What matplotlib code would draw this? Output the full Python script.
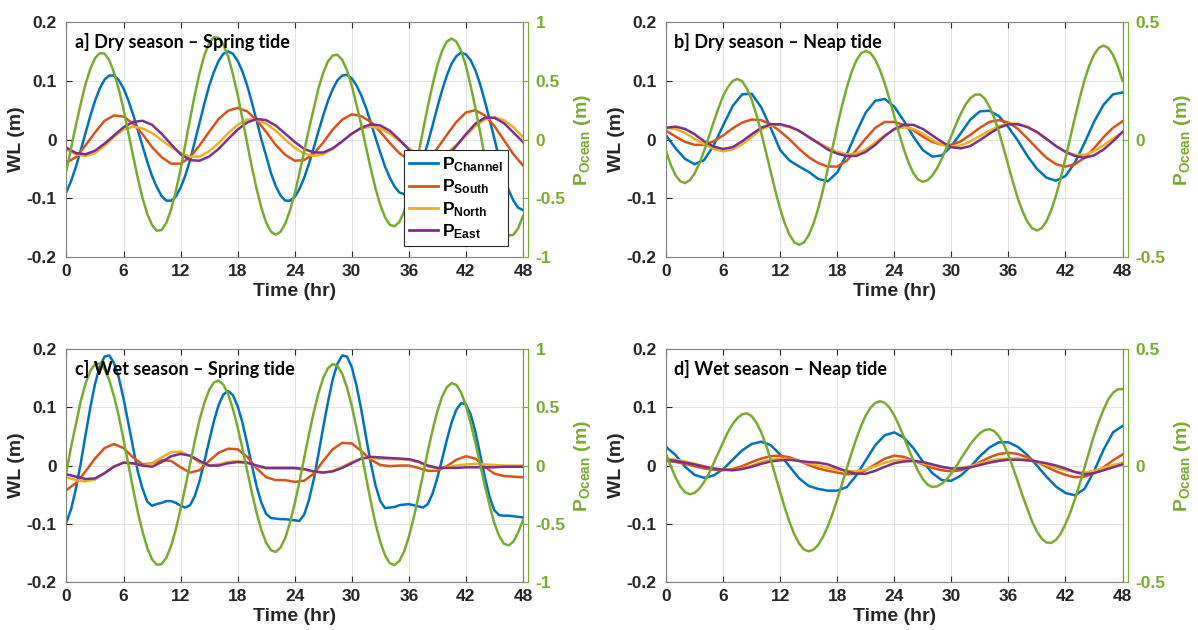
import matplotlib
matplotlib.use("Agg")
import matplotlib.pyplot as plt
from matplotlib.lines import Line2D

plt.rcParams["font.family"] = ["Liberation Sans", "DejaVu Sans"]
plt.rcParams["font.weight"] = "bold"
plt.rcParams["mathtext.fontset"] = "custom"
plt.rcParams["mathtext.bf"] = "Liberation Sans:bold"
plt.rcParams["mathtext.rm"] = "Liberation Sans:bold"
plt.rcParams["axes.unicode_minus"] = False

# time axes (hours): hourly readings and half-hourly readings for the big curves
hours = list(range(49))
half_hours = [i / 2 for i in range(97)]

# ---- a] Dry season - Spring tide ----
a_channel = [-0.089, -0.070, -0.046, -0.018, 0.011, 0.040, 0.066, 0.087, 0.102, 0.109, 0.109, 0.101,
             0.087, 0.067, 0.043, 0.016, -0.011, -0.038, -0.062, -0.081, -0.096, -0.104, -0.104, -0.097,
             -0.082, -0.061, -0.035, -0.003, 0.029, 0.061, 0.091, 0.115, 0.134, 0.146, 0.150, 0.146,
             0.134, 0.116, 0.092, 0.063, 0.032, 0.000, -0.028, -0.057, -0.079, -0.095, -0.104, -0.104,
             -0.098, -0.084, -0.065, -0.041, -0.014, 0.014, 0.041, 0.066, 0.086, 0.101, 0.109, 0.110,
             0.104, 0.092, 0.075, 0.054, 0.029, 0.003, -0.022, -0.046, -0.065, -0.080, -0.090, -0.093,
             -0.089, -0.077, -0.059, -0.034, -0.006, 0.024, 0.055, 0.084, 0.109, 0.129, 0.142, 0.148,
             0.145, 0.135, 0.118, 0.094, 0.065, 0.034, 0.001, -0.031, -0.061, -0.086, -0.104, -0.116, -0.120]
a_south = [-0.039, -0.030, -0.010, 0.012, 0.032, 0.041, 0.039, 0.027, 0.009, -0.013, -0.030, -0.041,
           -0.041, -0.030, -0.010, 0.013, 0.035, 0.049, 0.054, 0.048, 0.033, 0.013, -0.009, -0.026,
           -0.036, -0.035, -0.024, -0.005, 0.017, 0.034, 0.043, 0.040, 0.030, 0.013, -0.006, -0.023,
           -0.035, -0.039, -0.033, -0.015, 0.008, 0.030, 0.046, 0.050, 0.041, 0.023, -0.001, -0.025, -0.044]
a_north = [-0.017, -0.025, -0.028, -0.023, -0.011, 0.005, 0.017, 0.022, 0.019, 0.011, -0.001, -0.013,
           -0.023, -0.029, -0.029, -0.020, -0.006, 0.011, 0.025, 0.034, 0.034, 0.027, 0.015, 0.000,
           -0.014, -0.024, -0.028, -0.025, -0.016, -0.003, 0.010, 0.019, 0.022, 0.019, 0.010, -0.002,
           -0.015, -0.025, -0.031, -0.031, -0.023, -0.009, 0.007, 0.023, 0.034, 0.038, 0.033, 0.021, 0.004]
a_east = [-0.014, -0.023, -0.025, -0.019, -0.007, 0.007, 0.021, 0.030, 0.032, 0.025, 0.010, -0.008,
          -0.025, -0.035, -0.036, -0.029, -0.016, 0.001, 0.017, 0.029, 0.035, 0.033, 0.024, 0.010,
          -0.004, -0.016, -0.022, -0.022, -0.015, -0.003, 0.010, 0.020, 0.026, 0.024, 0.015, 0.000,
          -0.017, -0.031, -0.039, -0.039, -0.029, -0.011, 0.009, 0.027, 0.037, 0.037, 0.028, 0.012, -0.004]
a_ocean = [-0.261, -0.069, 0.126, 0.304, 0.471, 0.600, 0.692, 0.736, 0.731, 0.675, 0.571, 0.427,
           0.259, 0.059, -0.139, -0.329, -0.498, -0.635, -0.729, -0.776, -0.770, -0.709, -0.596, -0.439,
           -0.256, -0.039, 0.177, 0.384, 0.568, 0.717, 0.820, 0.871, 0.866, 0.809, 0.706, 0.557,
           0.381, 0.179, -0.031, -0.236, -0.422, -0.585, -0.707, -0.784, -0.810, -0.786, -0.716, -0.605,
           -0.462, -0.287, -0.100, 0.091, 0.262, 0.436, 0.569, 0.665, 0.716, 0.721, 0.677, 0.590,
           0.461, 0.296, 0.123, -0.065, -0.248, -0.417, -0.557, -0.662, -0.725, -0.739, -0.702, -0.615,
           -0.484, -0.319, -0.125, 0.080, 0.283, 0.466, 0.631, 0.755, 0.834, 0.860, 0.833, 0.755,
           0.630, 0.458, 0.272, 0.062, -0.151, -0.345, -0.527, -0.667, -0.768, -0.816, -0.811, -0.755, -0.651]

# ---- b] Dry season - Neap tide ----
b_channel = [0.007, -0.015, -0.033, -0.042, -0.035, -0.010, 0.024, 0.057, 0.077, 0.078, 0.055, 0.020,
             -0.018, -0.036, -0.046, -0.055, -0.067, -0.071, -0.056, -0.025, 0.012, 0.046, 0.066, 0.069,
             0.056, 0.032, 0.005, -0.018, -0.029, -0.027, -0.011, 0.011, 0.034, 0.048, 0.049, 0.040,
             0.021, -0.002, -0.028, -0.050, -0.065, -0.070, -0.062, -0.039, -0.006, 0.030, 0.059, 0.077, 0.080]
b_south = [0.015, 0.005, -0.004, -0.009, -0.009, -0.003, 0.007, 0.019, 0.029, 0.034, 0.033, 0.026,
           0.014, 0.000, -0.016, -0.030, -0.040, -0.046, -0.046, -0.036, -0.018, 0.002, 0.020, 0.030,
           0.030, 0.025, 0.016, 0.005, -0.004, -0.009, -0.009, -0.003, 0.008, 0.020, 0.030, 0.033,
           0.029, 0.018, 0.002, -0.015, -0.031, -0.042, -0.046, -0.042, -0.031, -0.015, 0.004, 0.020, 0.031]
b_north = [0.020, 0.018, 0.011, 0.001, -0.008, -0.016, -0.020, -0.017, -0.008, 0.004, 0.017, 0.024,
           0.025, 0.021, 0.014, 0.005, -0.005, -0.014, -0.021, -0.025, -0.024, -0.017, -0.005, 0.007,
           0.017, 0.021, 0.018, 0.010, -0.001, -0.009, -0.012, -0.010, -0.003, 0.006, 0.015, 0.023,
           0.027, 0.027, 0.022, 0.012, 0.001, -0.011, -0.021, -0.026, -0.026, -0.020, -0.010, 0.002, 0.012]
b_east = [0.020, 0.022, 0.018, 0.009, -0.003, -0.012, -0.016, -0.013, -0.003, 0.009, 0.020, 0.026,
          0.026, 0.022, 0.015, 0.004, -0.006, -0.017, -0.024, -0.028, -0.028, -0.021, -0.009, 0.006,
          0.018, 0.025, 0.025, 0.018, 0.007, -0.004, -0.013, -0.015, -0.011, -0.001, 0.010, 0.020,
          0.026, 0.026, 0.021, 0.013, 0.001, -0.011, -0.021, -0.028, -0.031, -0.027, -0.017, -0.003, 0.013]
b_ocean = [-0.050, -0.109, -0.152, -0.178, -0.185, -0.173, -0.144, -0.101, -0.048, 0.012, 0.074, 0.133,
           0.186, 0.223, 0.249, 0.258, 0.248, 0.217, 0.169, 0.106, 0.030, -0.053, -0.137, -0.220,
           -0.296, -0.359, -0.407, -0.438, -0.448, -0.438, -0.407, -0.358, -0.293, -0.215, -0.127, -0.036,
           0.056, 0.144, 0.221, 0.287, 0.336, 0.367, 0.377, 0.368, 0.340, 0.295, 0.238, 0.171,
           0.099, 0.026, -0.041, -0.098, -0.143, -0.170, -0.180, -0.173, -0.153, -0.122, -0.081, -0.033,
           0.016, 0.066, 0.111, 0.149, 0.176, 0.191, 0.192, 0.175, 0.140, 0.093, 0.033, -0.038,
           -0.112, -0.184, -0.252, -0.307, -0.350, -0.378, -0.387, -0.377, -0.348, -0.301, -0.239, -0.164,
           -0.081, 0.007, 0.094, 0.177, 0.252, 0.314, 0.361, 0.390, 0.400, 0.390, 0.360, 0.312, 0.250]

# ---- c] Wet season - Spring tide ----
c_channel = [-0.097, -0.074, -0.039, 0.004, 0.052, 0.099, 0.140, 0.170, 0.187, 0.189, 0.176, 0.151,
             0.115, 0.073, 0.031, -0.010, -0.040, -0.062, -0.069, -0.066, -0.064, -0.061, -0.061, -0.064,
             -0.069, -0.072, -0.068, -0.052, -0.026, 0.007, 0.042, 0.076, 0.104, 0.122, 0.128, 0.121,
             0.102, 0.074, 0.038, 0.000, -0.036, -0.064, -0.083, -0.090, -0.091, -0.092, -0.092, -0.093,
             -0.094, -0.095, -0.084, -0.059, -0.024, 0.020, 0.066, 0.109, 0.148, 0.175, 0.189, 0.187,
             0.169, 0.137, 0.096, 0.049, 0.004, -0.034, -0.061, -0.073, -0.072, -0.071, -0.068, -0.067,
             -0.066, -0.068, -0.070, -0.072, -0.066, -0.048, -0.021, 0.011, 0.044, 0.074, 0.096, 0.107,
             0.105, 0.088, 0.058, 0.019, -0.020, -0.054, -0.077, -0.085, -0.086, -0.086, -0.087, -0.088, -0.089]
c_south = [-0.042, -0.030, -0.010, 0.012, 0.030, 0.037, 0.030, 0.014, 0.002, 0.004, 0.009, 0.008,
           -0.003, -0.012, -0.008, 0.008, 0.022, 0.029, 0.028, 0.015, -0.005, -0.020, -0.025, -0.025,
           -0.028, -0.026, -0.014, 0.008, 0.028, 0.039, 0.038, 0.025, 0.010, 0.001, -0.001, 0.000,
           0.000, -0.004, -0.009, -0.009, -0.001, 0.010, 0.016, 0.012, -0.002, -0.014, -0.018, -0.019, -0.020]
c_north = [-0.020, -0.025, -0.027, -0.024, -0.013, -0.001, 0.005, 0.003, 0.000, 0.004, 0.014, 0.023,
           0.024, 0.016, 0.005, 0.000, 0.002, 0.006, 0.008, 0.005, -0.001, -0.005, -0.005, -0.005,
           -0.005, -0.007, -0.011, -0.012, -0.009, -0.002, 0.006, 0.012, 0.013, 0.012, 0.011, 0.011,
           0.010, 0.006, -0.001, -0.005, -0.003, 0.000, 0.002, 0.003, 0.002, 0.001, 0.000, 0.000, 0.000]
c_east = [-0.015, -0.019, -0.023, -0.022, -0.013, -0.002, 0.005, 0.004, 0.000, -0.002, 0.006, 0.016,
          0.020, 0.017, 0.008, 0.000, 0.000, 0.004, 0.006, 0.005, 0.000, -0.004, -0.004, -0.004,
          -0.004, -0.006, -0.010, -0.012, -0.010, -0.004, 0.004, 0.012, 0.015, 0.014, 0.013, 0.012,
          0.011, 0.007, 0.000, -0.004, -0.004, -0.004, -0.003, -0.003, -0.003, -0.003, -0.002, -0.002, -0.002]
c_ocean = [-0.050, 0.166, 0.358, 0.554, 0.704, 0.812, 0.870, 0.876, 0.830, 0.733, 0.593, 0.424,
           0.223, 0.013, -0.198, -0.399, -0.568, -0.708, -0.805, -0.851, -0.846, -0.791, -0.689, -0.548,
           -0.373, -0.182, 0.017, 0.212, 0.395, 0.538, 0.648, 0.713, 0.729, 0.694, 0.612, 0.486,
           0.328, 0.147, -0.045, -0.233, -0.407, -0.553, -0.662, -0.726, -0.741, -0.705, -0.622, -0.491,
           -0.326, -0.139, 0.065, 0.269, 0.456, 0.621, 0.752, 0.835, 0.871, 0.855, 0.787, 0.670,
           0.512, 0.323, 0.116, -0.099, -0.309, -0.499, -0.654, -0.770, -0.838, -0.854, -0.819, -0.739,
           -0.612, -0.453, -0.271, -0.074, 0.124, 0.305, 0.465, 0.591, 0.672, 0.708, 0.692, 0.626,
           0.518, 0.366, 0.196, 0.011, -0.174, -0.343, -0.496, -0.604, -0.670, -0.685, -0.652, -0.573, -0.470]

# ---- d] Wet season - Neap tide ----
d_channel = [0.032, 0.018, -0.002, -0.016, -0.021, -0.017, -0.006, 0.010, 0.026, 0.037, 0.041, 0.035,
             0.019, -0.002, -0.022, -0.035, -0.040, -0.043, -0.043, -0.037, -0.017, 0.009, 0.035, 0.052,
             0.057, 0.048, 0.030, 0.007, -0.013, -0.025, -0.026, -0.017, -0.002, 0.016, 0.031, 0.040,
             0.040, 0.032, 0.018, 0.000, -0.019, -0.036, -0.047, -0.051, -0.040, -0.010, 0.027, 0.057, 0.068]
d_south = [0.008, 0.006, 0.003, -0.001, -0.005, -0.007, -0.008, -0.006, -0.001, 0.006, 0.012, 0.016,
           0.017, 0.014, 0.008, 0.001, -0.005, -0.009, -0.012, -0.015, -0.014, -0.008, 0.002, 0.012,
           0.017, 0.015, 0.009, 0.002, -0.004, -0.008, -0.010, -0.008, -0.002, 0.006, 0.014, 0.020,
           0.022, 0.020, 0.014, 0.006, -0.002, -0.010, -0.016, -0.020, -0.019, -0.013, -0.003, 0.009, 0.019]
d_north = [0.012, 0.010, 0.007, 0.003, -0.001, -0.005, -0.007, -0.008, -0.005, 0.000, 0.006, 0.010,
           0.012, 0.011, 0.008, 0.004, 0.000, -0.004, -0.007, -0.009, -0.010, -0.007, -0.001, 0.005,
           0.009, 0.010, 0.008, 0.004, 0.000, -0.003, -0.005, -0.004, -0.001, 0.004, 0.008, 0.011,
           0.012, 0.012, 0.010, 0.006, 0.001, -0.004, -0.008, -0.011, -0.012, -0.009, -0.004, 0.001, 0.005]
d_east = [0.010, 0.008, 0.005, 0.002, -0.002, -0.005, -0.007, -0.008, -0.006, -0.002, 0.003, 0.007,
          0.009, 0.010, 0.008, 0.006, 0.005, 0.002, -0.004, -0.010, -0.014, -0.014, -0.009, -0.002,
          0.004, 0.007, 0.008, 0.006, 0.002, -0.002, -0.005, -0.005, -0.003, 0.001, 0.005, 0.008,
          0.010, 0.010, 0.009, 0.007, 0.004, 0.000, -0.005, -0.011, -0.015, -0.013, -0.008, -0.003, 0.002]
d_ocean = [0.049, -0.003, -0.051, -0.090, -0.115, -0.123, -0.117, -0.099, -0.070, -0.034, 0.010, 0.055,
           0.100, 0.144, 0.178, 0.204, 0.220, 0.224, 0.212, 0.184, 0.143, 0.089, 0.026, -0.044,
           -0.114, -0.183, -0.245, -0.296, -0.335, -0.360, -0.368, -0.361, -0.340, -0.306, -0.261, -0.207,
           -0.145, -0.079, -0.012, 0.053, 0.115, 0.169, 0.215, 0.248, 0.269, 0.276, 0.269, 0.248,
           0.215, 0.172, 0.123, 0.071, 0.022, -0.023, -0.058, -0.082, -0.092, -0.089, -0.078, -0.059,
           -0.033, -0.004, 0.029, 0.061, 0.092, 0.117, 0.139, 0.152, 0.156, 0.148, 0.126, 0.091,
           0.045, -0.011, -0.070, -0.131, -0.186, -0.241, -0.283, -0.314, -0.330, -0.332, -0.319, -0.292,
           -0.251, -0.202, -0.143, -0.077, -0.009, 0.061, 0.129, 0.188, 0.240, 0.284, 0.312, 0.327, 0.328]

titles = ["a] Dry season \u2013 Spring tide", "b] Dry season \u2013 Neap tide",
          "c] Wet season \u2013 Spring tide", "d] Wet season \u2013 Neap tide"]
series_names = [r"$\mathbf{P_{Channel}}$", r"$\mathbf{P_{South}}$",
                r"$\mathbf{P_{North}}$", r"$\mathbf{P_{East}}$"]

time_ticks = [0, 6, 12, 18, 24, 30, 36, 42, 48]
wl_ticks = [-0.2, -0.1, 0, 0.1, 0.2]
wl_labels = ["-0.2", "-0.1", "0", "0.1", "0.2"]
spring_ticks = [-1, -0.5, 0, 0.5, 1]
spring_labels = ["-1", "-0.5", "0", "0.5", "1"]
neap_ticks = [-0.5, 0, 0.5]
neap_labels = ["-0.5", "0", "0.5"]

colors = ["#0072BD", "#D95319", "#EDB120", "#7E2F8E"]
green = "#77AC30"
box = "#808080"
ink = "#262626"

fig = plt.figure(figsize=(11.98, 6.3), dpi=100)

positions = [
    [0.0555, 0.592, 0.381, 0.373],
    [0.556, 0.592, 0.381, 0.373],
    [0.0555, 0.076, 0.381, 0.370],
    [0.556, 0.076, 0.381, 0.370],
]

panels = [
    (a_channel, a_south, a_north, a_east, a_ocean, 1.0, spring_ticks, spring_labels),
    (b_channel, b_south, b_north, b_east, b_ocean, 0.5, neap_ticks, neap_labels),
    (c_channel, c_south, c_north, c_east, c_ocean, 1.0, spring_ticks, spring_labels),
    (d_channel, d_south, d_north, d_east, d_ocean, 0.5, neap_ticks, neap_labels),
]

for i, (pos, panel) in enumerate(zip(positions, panels)):
    ch, so, no, ea, oc, olim, oticks, olabels = panel
    ax = fig.add_axes(pos)
    ax2 = ax.twinx()

    for vals, c in zip([ch, so, no, ea], colors):
        t = half_hours if len(vals) == len(half_hours) else hours
        ax.plot(t, vals, color=c, lw=1.8, solid_joinstyle="round")
    ax2.plot(half_hours, oc, color=green, lw=1.8, solid_joinstyle="round")

    ax.set_xlim(0, 48)
    ax.set_ylim(-0.2, 0.2)
    ax2.set_ylim(-olim, olim)

    ax.set_xticks(time_ticks)
    ax.set_xticklabels([str(t) for t in time_ticks])
    ax.set_yticks(wl_ticks)
    ax.set_yticklabels(wl_labels)
    ax2.set_yticks(oticks)
    ax2.set_yticklabels(olabels)

    ax.grid(True, color="#e4e4e4", lw=0.8)
    ax.set_axisbelow(True)

    ax.tick_params(direction="in", length=4, width=0.8, colors=ink, labelsize=12.5,
                   top=True, right=False, pad=5)
    ax.tick_params(axis="y", pad=7)
    ax2.tick_params(axis="y", direction="in", length=4, width=0.8, colors=green,
                    labelsize=12.5, pad=5)

    for s in ["left", "bottom", "top", "right"]:
        ax.spines[s].set_color(box)
        ax.spines[s].set_linewidth(0.8)
    for s in ["left", "bottom", "top"]:
        ax2.spines[s].set_visible(False)
    ax2.spines["right"].set_color(green)
    ax2.spines["right"].set_linewidth(0.8)
    ax2.spines["right"].set_position(("outward", 4))

    ax.set_xlabel("Time (hr)", fontsize=14, fontweight="bold", color=ink, labelpad=3)
    ax.set_ylabel("WL (m)", fontsize=14, fontweight="bold", color=ink, labelpad=1)
    ax2.set_ylabel(r"$\mathbf{P_{Ocean}}$ (m)", fontsize=14, fontweight="bold",
                   color=green, labelpad=5)

    ax2.text(0.018, 0.955, titles[i], transform=ax.transAxes, ha="left", va="top",
             fontsize=13, fontweight="bold", family=["Lato", "DejaVu Sans"],
             color="black", zorder=10)

    if i == 0:
        handles = [Line2D([], [], color=c, lw=2) for c in colors]
        leg = ax2.legend(handles, series_names, loc="lower right",
                         bbox_to_anchor=(0.967, 0.047), fontsize=12.5, frameon=True,
                         fancybox=False, framealpha=1, edgecolor=ink,
                         handlelength=1.7, handletextpad=0.2, labelspacing=0.2,
                         borderpad=0.3, borderaxespad=0)
        leg.get_frame().set_linewidth(0.8)
        leg.set_zorder(20)

fig.savefig("out.png", dpi=100)
